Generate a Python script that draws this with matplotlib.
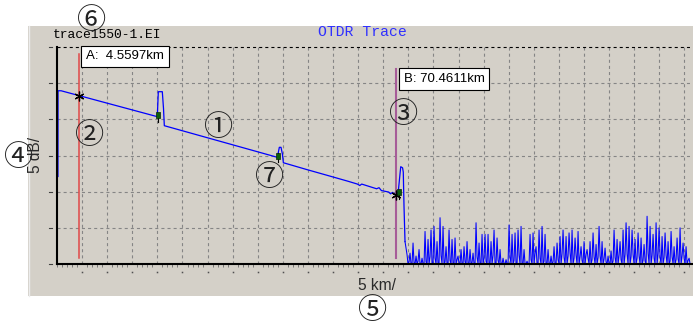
import numpy as np
import matplotlib
matplotlib.use("Agg")
import matplotlib.pyplot as plt
from matplotlib.patches import Rectangle
from matplotlib.lines import Line2D

plt.rcParams["lines.scale_dashes"] = False

# ---- data -----------------------------------------------------------------
# fibre trace (distance in km, level in dB)
trace_km = [0.20, 0.22, 0.85, 20.87, 21.08, 21.91, 22.16, 22.33, 45.85, 46.26,
            46.61, 46.90, 47.10, 52.0, 56.0, 60.5, 62.5, 63.0, 63.4, 66.5,
            67.0, 67.5, 69.0, 69.4, 69.8, 70.46, 71.0, 71.3, 71.52, 71.9,
            72.05, 72.2, 72.41]
trace_db = [12.1, 23.95, 23.95, 20.37, 23.82, 23.82, 21.5, 19.12, 14.75, 16.13,
            16.13, 15.2, 14.0, 13.05, 12.3, 11.45, 11.05, 10.85, 11.05, 10.4,
            10.55, 10.15, 9.95, 9.7, 9.9, 9.54, 9.95, 12.0, 13.45, 13.3,
            12.7, 8.0, 3.1]

# noise floor after the fibre end (one sample per 0.208 km)
noise_start_km = 72.83
noise_step_km = 0.2081
noise_db = [
    1.3, 0.0, 0.3, 1.5, 0.0, 0.0, 2.9, 0.2, 0.0, 1.1, 0.0, 0.4,
    2.0, 0.0, 0.0, 0.8, 0.0, 0.0, 4.5, 0.3, 0.0, 3.4, 0.0, 1.0,
    4.7, 0.0, 0.0, 5.2, 0.8, 0.0, 3.1, 0.0, 0.0, 6.4, 1.2, 0.0,
    5.2, 0.0, 0.3, 2.4, 0.0, 0.0, 4.7, 0.5, 0.0, 3.4, 0.0, 0.0,
    3.6, 0.0, 0.6, 1.1, 0.0, 0.0, 2.0, 0.0, 0.0, 2.4, 0.3, 0.0,
    3.1, 0.0, 0.0, 2.0, 0.0, 0.2, 1.5, 0.0, 0.0, 5.7, 1.0, 0.0,
    2.9, 0.0, 0.0, 4.1, 0.0, 0.8, 4.1, 0.4, 0.0, 4.1, 0.0, 0.0,
    3.1, 0.0, 1.2, 4.7, 0.0, 0.0, 3.6, 0.5, 0.0, 2.0, 0.0, 0.0,
    0.8, 0.0, 0.0, 0.6, 0.0, 0.0, 5.4, 1.0, 0.0, 4.1, 0.0, 0.5,
    4.3, 0.0, 0.0, 4.7, 1.2, 0.0, 5.2, 0.0, 0.0, 2.0, 0.0, 0.0,
    0.4, 0.0, 0.0, 4.1, 0.6, 0.0, 4.3, 0.0, 1.5, 2.4, 0.0, 0.0,
    4.7, 0.8, 0.0, 5.2, 0.0, 0.4, 4.1, 0.0, 0.0, 2.0, 0.0, 0.0,
    1.1, 0.0, 0.3, 2.4, 0.0, 0.0, 2.9, 0.6, 0.0, 3.8, 0.0, 1.4,
    4.7, 0.9, 0.0, 3.8, 0.0, 1.1, 4.3, 1.5, 0.0, 4.7, 0.0, 0.8,
    3.6, 1.2, 0.0, 4.5, 0.0, 1.0, 2.4, 0.5, 0.0, 3.1, 0.0, 1.3,
    2.0, 0.8, 0.0, 3.1, 0.0, 0.6, 4.3, 1.0, 0.0, 2.7, 0.0, 0.9,
    5.2, 1.1, 0.0, 3.1, 0.0, 0.7, 2.2, 0.3, 0.0, 1.1, 0.0, 0.0,
    1.8, 0.0, 0.4, 4.7, 0.9, 0.0, 3.4, 0.0, 1.2, 3.1, 0.6, 0.0,
    4.7, 0.0, 1.3, 5.7, 1.4, 0.0, 5.2, 0.0, 1.0, 4.7, 1.3, 0.0,
    3.4, 0.0, 0.8, 4.3, 1.1, 0.0, 3.6, 0.0, 0.5, 2.7, 0.4, 0.0,
    6.6, 1.5, 0.0, 5.2, 0.0, 1.2, 4.1, 0.8, 0.0, 5.7, 0.0, 1.4,
    5.0, 1.0, 0.0, 3.8, 0.0, 0.9, 4.3, 1.2, 0.0, 3.1, 0.0, 0.4,
    4.5, 1.0, 0.0, 2.4, 0.0, 0.6, 3.6, 0.7, 0.0, 5.0, 0.0, 1.1,
    2.9, 0.8, 0.0, 2.4, 0.0, 0.5, 0.8, 0.0, 0.0,
]

# detected events
event_km = [20.97, 45.92, 71.12]
event_db = [20.6, 15.0, 9.9]

# cursors
cursor_names = ["A", "B"]
cursor_km = [4.5597, 70.4611]
cursor_colors = ["#e04848", "#a65c98"]

file_name = "trace1550-1.EI"
title = "OTDR Trace"
x_unit = "5 km/"
y_unit = "5 dB/"

# ---- layout ---------------------------------------------------------------
W, H = 693, 325
X_MAX_KM = 132.33
Y_MAX_DB = 30.0
GRID_KM = 5.222
GRID_DB = 5.0


def fx(px):
    return px / W


def fy(py):
    return 1.0 - py / H


fig = plt.figure(figsize=(W / 100, H / 100), dpi=100)
fig.patch.set_facecolor("white")

# instrument panel
fig.patches.append(Rectangle((fx(28), fy(296)), (W - 28) / W, 270 / H,
                             transform=fig.transFigure, fc="#d4d0c8",
                             ec="none", zorder=-2))
fig.lines.append(Line2D([fx(28.5), fx(28.5)], [fy(26), fy(296)],
                        transform=fig.transFigure, color="#ececec", lw=1.0,
                        zorder=-1))

ax_l, ax_r, ax_t, ax_b = 57, 693, 47, 264
ax = fig.add_axes([fx(ax_l), fy(ax_b), (ax_r - ax_l) / W, (ax_b - ax_t) / H])
ax.set_zorder(1)
ax.set_facecolor("none")
ax.set_xlim(0, X_MAX_KM)
ax.set_ylim(0, Y_MAX_DB)

for side in ("top", "right"):
    ax.spines[side].set_visible(False)
for side in ("left", "bottom"):
    ax.spines[side].set_color("black")
    ax.spines[side].set_linewidth(1.5)
    ax.spines[side].set_zorder(4)

grid_x = np.arange(1, 26) * GRID_KM
grid_y = np.arange(1, 6) * GRID_DB
ax.set_xticks(grid_x)
ax.set_yticks(grid_y)
ax.set_xticks(np.arange(0, X_MAX_KM, GRID_KM / 5), minor=True)
ax.tick_params(which="major", length=0, labelbottom=False, labelleft=False)
ax.tick_params(axis="x", which="minor", direction="out", length=1.8,
               width=0.6, color="#6a6a6a")
ax.grid(True, which="major", color="#858585", lw=0.8,
        linestyle=(0, (2.2, 2.2)))
ax.axhline(Y_MAX_DB, color="black", lw=0.8, linestyle=(0, (2.2, 2.2)),
           clip_on=False)

# short marks outside the axes
ax_w_px, ax_h_px = ax_r - ax_l, ax_b - ax_t
for yv in np.arange(0, Y_MAX_DB + 0.1, GRID_DB):
    ax.plot([-8 / ax_w_px, -5 / ax_w_px], [yv, yv],
            transform=ax.get_yaxis_transform(), color="#404040", lw=0.8,
            clip_on=False)
for xv in grid_x:
    ax.plot([xv], [-8 / ax_h_px], transform=ax.get_xaxis_transform(),
            marker="s", ms=1.1, color="#505050", mec="none", clip_on=False)

# trace and noise
ax.plot(trace_km, trace_db, color="#0000ff", lw=0.9, zorder=3)
noise_km = noise_start_km + noise_step_km * np.arange(len(noise_db))
ax.plot(np.r_[trace_km[-1], noise_km], np.r_[trace_db[-1], noise_db],
        color="#0000ff", lw=0.75, zorder=3)

# cursors
label_db = [28.69, 25.55]
line_top_db = [28.98, 26.96]
label_offset_px = [7, 8]
for name, km, col, ldb, ltop, off in zip(cursor_names, cursor_km,
                                         cursor_colors, label_db,
                                         line_top_db, label_offset_px):
    ax.plot([km, km], [0.83, ltop], color=col, lw=1.1 if name == "A" else 1.5,
            zorder=2)
    ax.annotate(f"{name}:  {km:.4f}km" if name == "A" else f"{name}: {km:.4f}km",
                xy=(km, ldb), xytext=(off, 0), textcoords="offset pixels",
                ha="left", va="center", family="Liberation Sans",
                fontsize=9.5, color="black", zorder=6,
                bbox=dict(boxstyle="square,pad=0.36", fc="white", ec="black",
                          lw=0.8))
    ax.plot([km], [np.interp(km, trace_km, trace_db)], marker=(6, 2, 0),
            ms=7, color="black", mew=0.9, zorder=5)

# event markers
for km, db in zip(event_km, event_db):
    ax.plot([km, km], [db + 0.3, db - 0.9], color="black", lw=0.8, zorder=4)
    ax.plot([km], [db], marker=[(-1, -2), (1, -2), (1, 2), (-1, 2), (-1, -2)],
            ms=5, mfc="#0b5e0b", mec="#052805", mew=0.5, zorder=5)

# texts
fig.text(fx(53), fy(35), file_name, family="Liberation Mono", fontsize=9.4,
         color="black", ha="left", va="center")
fig.text(fx(362), fy(32.5), title, family="Liberation Mono", fontsize=10.6,
         color="#2f2fff", ha="center", va="center")
fig.text(fx(377), fy(286), x_unit, family="Liberation Sans", fontsize=11.2,
         color="#2a2a2a", ha="center", va="center")
fig.text(fx(36), fy(155), y_unit, family="Liberation Sans", fontsize=11.2,
         color="#2a2a2a", ha="center", va="center", rotation=90)

# numbered callouts
callouts = [("\u2460", 219, 128), ("\u2461", 90, 136), ("\u2462", 404, 115),
            ("\u2463", 19, 158), ("\u2464", 373, 311), ("\u2465", 92, 21),
            ("\u2466", 270, 178)]
for ch, px, py in callouts:
    fig.text(fx(px), fy(py), ch, family=["Noto Sans CJK JP", "DejaVu Sans"],
             fontsize=21, color="#222222", ha="center", va="center",
             zorder=5)

fig.savefig("out.png", dpi=100)
